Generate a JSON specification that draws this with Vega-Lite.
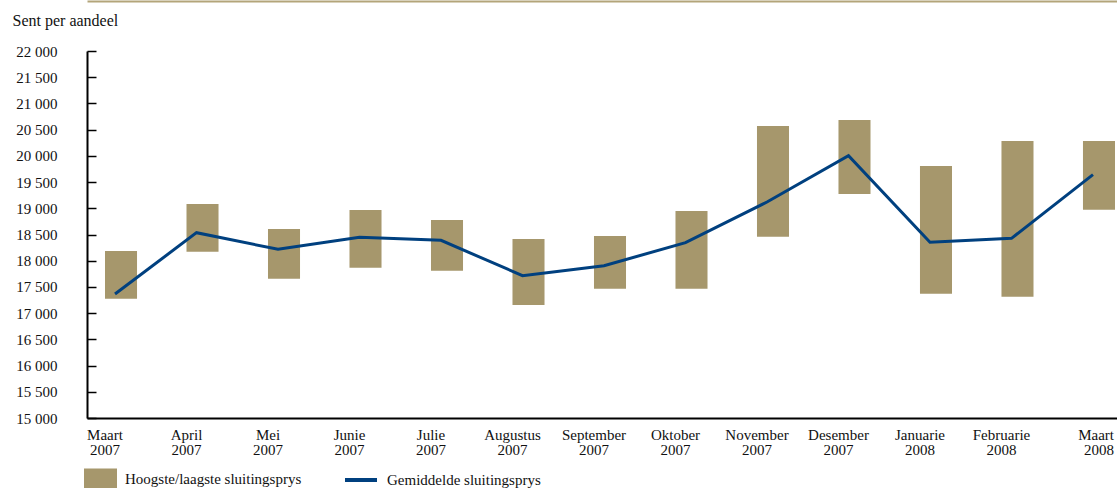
{
  "$schema": "https://vega.github.io/schema/vega-lite/v6.json",
  "width": 1030,
  "height": 367,
  "autosize": {"type": "none"},
  "padding": {"left": 87, "top": 51, "right": 0, "bottom": 70},
  "background": "white",
  "config": {
    "view": {"stroke": null},
    "font": "Liberation Serif",
    "axis": {"labelFont": "Liberation Serif", "titleFont": "Liberation Serif", "grid": false},
    "legend": {"labelFont": "Liberation Serif", "padding": 0, "labelLimit": 400}
  },
  "data": {
    "values": [
      {"month": "Maart 2007", "low": 17275, "high": 18185, "avg": 17365},
      {"month": "April 2007", "low": 18172, "high": 19082, "avg": 18535},
      {"month": "Mei 2007", "low": 17657, "high": 18605, "avg": 18217},
      {"month": "Junie 2007", "low": 17867, "high": 18967, "avg": 18446},
      {"month": "Julie 2007", "low": 17810, "high": 18777, "avg": 18389},
      {"month": "Augustus 2007", "low": 17155, "high": 18414, "avg": 17715},
      {"month": "September 2007", "low": 17467, "high": 18471, "avg": 17905},
      {"month": "Oktober 2007", "low": 17467, "high": 18948, "avg": 18344},
      {"month": "November 2007", "low": 18459, "high": 20570, "avg": 19120},
      {"month": "Desember 2007", "low": 19272, "high": 20684, "avg": 20003},
      {"month": "Januarie 2008", "low": 17371, "high": 19807, "avg": 18351},
      {"month": "Februarie 2008", "low": 17314, "high": 20283, "avg": 18427},
      {"month": "Maart 2008", "low": 18973, "high": 20283, "avg": 19641}
    ]
  },
  "resolve": {"axis": {"x": "independent"}},
  "layer": [
    {
      "mark": {"type": "bar"},
      "encoding": {
        "x": {
          "field": "month", "type": "nominal", "sort": null,
          "scale": {"paddingInner": 0.607, "paddingOuter": 0.1227, "align": 0.9},
          "axis": {
            "orient": "bottom", "title": null, "ticks": false,
            "domainColor": "#000000", "domainWidth": 2,
            "labelAngle": 0, "labelFontSize": 15, "labelColor": "#111111",
            "labelExpr": "split(datum.label, ' ')", "labelLineHeight": 15,
            "labelBaseline": "top", "labelPadding": 9,
            "labelAlign": {"condition": {"test": "datum.value == 'Maart 2008'", "value": "right"}, "value": "center"},
            "labelOffset": {"condition": {"test": "datum.value == 'Maart 2008'", "value": 15}, "value": -16}
          }
        },
        "y": {
          "field": "low", "type": "quantitative",
          "scale": {"domain": [15000, 22000], "nice": false, "zero": false},
          "axis": {
            "values": [15000, 15500, 16000, 16500, 17000, 17500, 18000, 18500, 19000, 19500, 20000, 20500, 21000, 21500, 22000],
            "labelExpr": "replace(format(datum.value, ','), ',', ' ')",
            "labelFontSize": 15, "labelColor": "#111111",
            "domainColor": "#000000", "domainWidth": 2,
            "tickColor": "#000000", "tickWidth": 1.5, "tickSize": -9,
            "labelPadding": 39, "labelAlign": "right",
            "title": "Sent per aandeel", "titleAngle": 0, "titleAlign": "left",
            "titleBaseline": "middle", "titleX": -75, "titleY": -31,
            "titleFontSize": 16, "titleFontWeight": "normal", "titleColor": "#111111"
          }
        },
        "y2": {"field": "high"},
        "fill": {
          "datum": "Hoogste/laagste sluitingsprys",
          "scale": {"range": ["#a6976c"]},
          "legend": {
            "title": null, "orient": "none", "legendX": -3, "legendY": 411,
            "symbolType": "M-1,-0.6L1,-0.6L1,0.6L-1,0.6Z", "symbolSize": 1089,
            "symbolStrokeWidth": 0, "symbolOpacity": 1,
            "labelFontSize": 15, "labelColor": "#111111", "labelOffset": 8
          }
        }
      }
    },
    {
      "mark": {"type": "line", "strokeWidth": 3, "xOffset": -6},
      "encoding": {
        "x": {
          "field": "month", "type": "nominal", "sort": null,
          "axis": {
            "orient": "top", "title": null, "labels": false, "ticks": false,
            "domainColor": "#b3a57a", "domainWidth": 2, "offset": 50
          }
        },
        "y": {
          "field": "avg", "type": "quantitative",
          "axis": {
            "values": [15000, 15500, 16000, 16500, 17000, 17500, 18000, 18500, 19000, 19500, 20000, 20500, 21000, 21500, 22000],
            "labelExpr": "replace(format(datum.value, ','), ',', ' ')",
            "labelFontSize": 15, "labelColor": "#111111",
            "domainColor": "#000000", "domainWidth": 2,
            "tickColor": "#000000", "tickWidth": 1.5, "tickSize": -9,
            "labelPadding": 39, "labelAlign": "right",
            "title": "Sent per aandeel", "titleAngle": 0, "titleAlign": "left",
            "titleBaseline": "middle", "titleX": -75, "titleY": -31,
            "titleFontSize": 16, "titleFontWeight": "normal", "titleColor": "#111111"
          }
        },
        "stroke": {
          "datum": "Gemiddelde sluitingsprys",
          "scale": {"range": ["#00407f"]},
          "legend": {
            "title": null, "orient": "none", "legendX": 256, "legendY": 411,
            "symbolType": "stroke", "symbolSize": 1024, "symbolStrokeWidth": 4,
            "labelFontSize": 15, "labelColor": "#111111", "labelOffset": 8
          }
        }
      }
    }
  ]
}
